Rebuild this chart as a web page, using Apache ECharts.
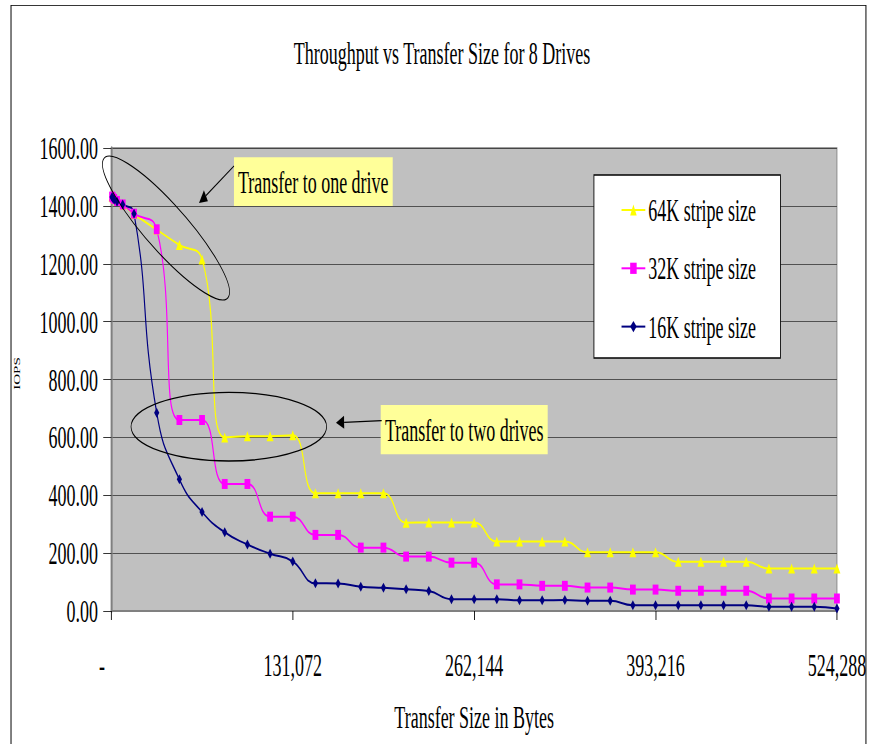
<!DOCTYPE html>
<html>
<head>
<meta charset="utf-8">
<script src="https://cdn.jsdelivr.net/npm/echarts@6/dist/echarts.min.js"></script>
<style>
html,body{margin:0;padding:0;background:#fff;overflow:hidden;width:869px;height:744px}
#wrap{width:869px;height:744px;overflow:hidden;position:relative}
#chart{width:1498px;height:744px;transform:scaleX(0.58);transform-origin:0 0}
</style>
</head>
<body>
<div id="wrap"><div id="chart"></div></div>
<script>
// ---- data ----
const chartTitle = 'Throughput vs Transfer Size for 8 Drives';
const xAxisTitle = 'Transfer Size in Bytes';
const yAxisTitle = 'IOPS';
const seriesNames = ['64K stripe size', '32K stripe size', '16K stripe size'];
const transferSizes = [512, 1024, 2048, 4096, 8192,
  16384, 32768, 49152, 65536, 81920, 98304, 114688, 131072,
  147456, 163840, 180224, 196608, 212992, 229376, 245760, 262144,
  278528, 294912, 311296, 327680, 344064, 360448, 376832, 393216,
  409600, 425984, 442368, 458752, 475136, 491520, 507904, 524288];
const stripe64K = [1432, 1430, 1425, 1418, 1405,
  1372, 1318, 1265, 1215, 600, 604, 604, 607,
  407, 407, 407, 407, 305, 306, 306, 306,
  240, 240, 240, 240, 203, 203, 203, 203,
  170, 170, 170, 170, 147, 147, 147, 147];
const stripe32K = [1432, 1429, 1424, 1417, 1405,
  1373, 1319, 660, 660, 439, 439, 326, 326,
  263, 263, 219, 219, 188, 188, 167, 167,
  92, 92, 87, 87, 81, 81, 74, 74,
  70, 70, 70, 70, 43, 43, 43, 43];
const stripe16K = [1431, 1427, 1421, 1414, 1405,
  1373, 685, 455, 342, 272, 230, 198, 171,
  96, 95, 84, 80, 75, 69, 41, 41,
  41, 37, 37, 38, 35, 35, 20, 20,
  20, 20, 20, 20, 15, 15, 15, 9];
const xTicks = [0, 131072, 262144, 393216, 524288];
const yTicks = [0, 200, 400, 600, 800, 1000, 1200, 1400, 1600];
const noteOne = 'Transfer to one drive';
const noteTwo = 'Transfer to two drives';

// ---- chart ----
const FONT = '"Liberation Serif", "Times New Roman", serif';
const chart = echarts.init(document.getElementById('chart'), null, {renderer: 'svg'});

function fmtThousands(v) {
  return String(Math.round(v)).replace(/\B(?=(\d{3})+(?!\d))/g, ',');
}
function pairs(vals) { return transferSizes.map((x, i) => [x, vals[i]]); }

function arrow(x1, y1, x2, y2) {
  const dx = x2 - x1, dy = y2 - y1, len = Math.hypot(dx, dy);
  const ux = dx / len, uy = dy / len, L = 14, H = 6.5;
  const bx = x2 - ux * L, by = y2 - uy * L;
  return [
    {type: 'line', silent: true, shape: {x1: x1, y1: y1, x2: bx, y2: by}, style: {stroke: '#000', lineWidth: 1.3}},
    {type: 'polygon', silent: true, shape: {points: [[x2, y2], [bx - uy * H, by + ux * H], [bx + uy * H, by - ux * H]]}, style: {fill: '#000'}}
  ];
}
function noteText(x, y, t) {
  return {type: 'text', silent: true, x: x, y: y,
    style: {text: t, font: '31px ' + FONT, fill: '#000', textAlign: 'left', textVerticalAlign: 'middle', align: 'left', verticalAlign: 'middle'}};
}

const graphics = [
  // outer frame
  {type: 'line', silent: true, shape: {x1: 19, y1: 5.5, x2: 1493, y2: 5.5}, style: {stroke: '#000', lineWidth: 1}},
  {type: 'line', silent: true, shape: {x1: 19, y1: 5, x2: 19, y2: 744}, style: {stroke: '#000', lineWidth: 1.7}},
  {type: 'line', silent: true, shape: {x1: 1493, y1: 5, x2: 1493, y2: 744}, style: {stroke: '#000', lineWidth: 1.7}},
  // ellipses
  {type: 'ellipse', silent: true, x: 286.2, y: 228, rotation: -0.559, shape: {cx: 0, cy: 0, rx: 128, ry: 27.7},
    style: {fill: 'none', stroke: '#000', lineWidth: 1.3}, z: 100},
  {type: 'ellipse', silent: true, shape: {cx: 394.5, cy: 426.7, rx: 168.6, ry: 34.3},
    style: {fill: 'none', stroke: '#000', lineWidth: 1.3}, z: 100},
  // note boxes
  {type: 'rect', silent: true, shape: {x: 403.4, y: 157.3, width: 273.7, height: 48.7}, style: {fill: '#FFFF99'}, z: 100},
  Object.assign(noteText(410.3, 182, noteOne), {z: 101}),
  {type: 'rect', silent: true, shape: {x: 656.4, y: 405, width: 287.9, height: 49.3}, style: {fill: '#FFFF99'}, z: 100},
  Object.assign(noteText(663.8, 430, noteTwo), {z: 101})
].concat(arrow(403.4, 166, 343.1, 203).map(g => Object.assign(g, {z: 100})))
 .concat(arrow(658.1, 420.7, 579.3, 422.7).map(g => Object.assign(g, {z: 100})));

const option = {
  animation: false,
  backgroundColor: '#fff',
  textStyle: {fontFamily: FONT},
  title: {
    text: chartTitle, left: 501.5, top: 32,
    textStyle: {fontFamily: FONT, fontSize: 31, fontWeight: 'normal', color: '#000'}
  },
  legend: {
    orient: 'vertical', left: 1024, top: 175,
    padding: [19.5, 42, 15.8, 46.6], itemGap: 27.3, itemWidth: 41, itemHeight: 14,
    backgroundColor: '#fff', borderColor: '#000', borderWidth: 1.5, borderRadius: 0,
    textStyle: {fontFamily: FONT, fontSize: 31, lineHeight: 31, color: '#000'},
    data: seriesNames
  },
  grid: {
    left: 192, right: 55, top: 148, bottom: 133, show: true,
    backgroundColor: '#C0C0C0', borderColor: '#808080', borderWidth: 1.5
  },
  xAxis: {
    type: 'value', min: xTicks[0], max: xTicks[xTicks.length - 1], interval: xTicks[1] - xTicks[0],
    name: xAxisTitle, nameLocation: 'middle', nameGap: 90,
    nameTextStyle: {fontFamily: FONT, fontSize: 31, color: '#000'},
    axisLine: {show: true, lineStyle: {color: '#808080', width: 2}},
    axisTick: {show: true, length: 9, lineStyle: {color: '#000', width: 1.5}},
    splitLine: {show: false},
    axisLabel: {
      margin: 38.5, fontFamily: FONT, fontSize: 31, color: '#000',
      formatter: v => v === 0 ? '{d|-}' : fmtThousands(v),
      rich: {d: {fontFamily: FONT, fontSize: 31, color: '#000', padding: [0, 32, 0, 0]}}
    }
  },
  yAxis: {
    type: 'value', min: yTicks[0], max: yTicks[yTicks.length - 1], interval: yTicks[1] - yTicks[0],
    name: yAxisTitle, nameLocation: 'middle', nameGap: 155, nameRotate: 90,
    nameTextStyle: {fontFamily: FONT, fontSize: 15, color: '#000', padding: [0, 0, 0, 12]},
    axisLine: {show: true, lineStyle: {color: '#808080', width: 3.4}},
    axisTick: {show: true, length: 14, lineStyle: {color: '#000', width: 1}},
    splitLine: {show: true, lineStyle: {color: '#333', width: 1}},
    axisLabel: {margin: 23, fontFamily: FONT, fontSize: 31, color: '#000', formatter: v => v.toFixed(2)}
  },
  series: [
    {name: seriesNames[0], type: 'line', data: pairs(stripe64K), smooth: 0.5,
      symbol: 'triangle', symbolSize: [12, 10], showAllSymbol: true,
      itemStyle: {color: '#FFFF00'}, lineStyle: {color: '#FFFF00', width: 2}},
    {name: seriesNames[1], type: 'line', data: pairs(stripe32K), smooth: 0.5,
      symbol: 'rect', symbolSize: [10, 10], showAllSymbol: true,
      itemStyle: {color: '#FF00FF'}, lineStyle: {color: '#FF00FF', width: 2}},
    {name: seriesNames[2], type: 'line', data: pairs(stripe16K), smooth: 0.5,
      symbol: 'diamond', symbolSize: [9, 10], showAllSymbol: true,
      itemStyle: {color: '#000080'}, lineStyle: {color: '#000080', width: 2}}
  ],
  graphic: graphics
};
chart.setOption(option);
</script>
</body>
</html>
